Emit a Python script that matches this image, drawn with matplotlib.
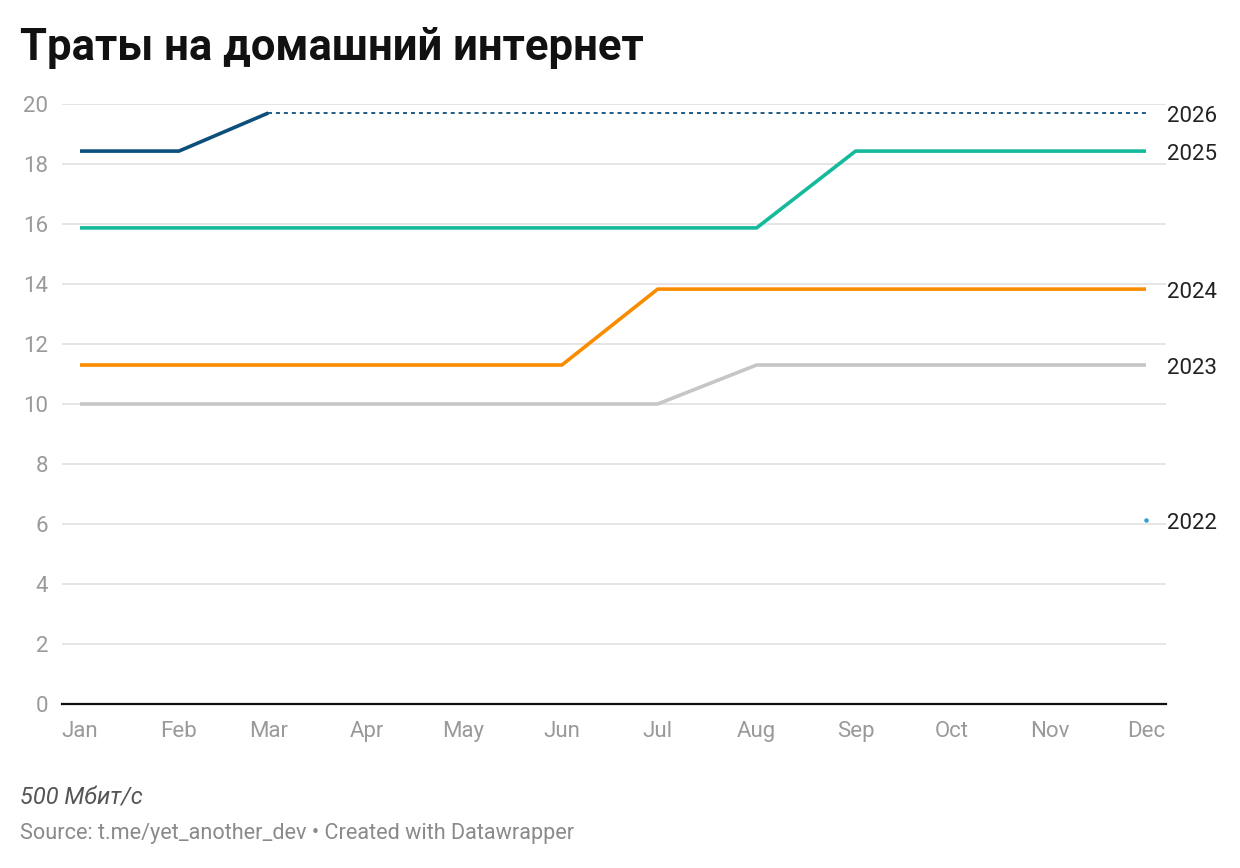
import matplotlib
matplotlib.use("Agg")
import matplotlib.pyplot as plt
import matplotlib.dates as mdates
import numpy as np

plt.rcParams['font.family'] = ['Roboto', 'DejaVu Sans']

months = ["Jan", "Feb", "Mar", "Apr", "May", "Jun", "Jul", "Aug", "Sep", "Oct", "Nov", "Dec"]
dates = np.array(["2023-%02d-01" % m for m in range(1, 13)], dtype="datetime64[D]")
y2026 = [18.43, 18.43, 19.7, None, None, None, None, None, None, None, None, None]
y2026_proj = [None, None, 19.7, 19.7, 19.7, 19.7, 19.7, 19.7, 19.7, 19.7, 19.7, 19.7]
y2025 = [15.87, 15.87, 15.87, 15.87, 15.87, 15.87, 15.87, 15.87, 18.43, 18.43, 18.43, 18.43]
y2024 = [11.3, 11.3, 11.3, 11.3, 11.3, 11.3, 13.83, 13.83, 13.83, 13.83, 13.83, 13.83]
y2023 = [10.0, 10.0, 10.0, 10.0, 10.0, 10.0, 10.0, 11.3, 11.3, 11.3, 11.3, 11.3]
y2022 = [None] * 11 + [6.13]
yticks = [0, 2, 4, 6, 8, 10, 12, 14, 16, 18, 20]

def arr(v):
    return np.array([np.nan if x is None else x for x in v], dtype=float)

fig = plt.figure(figsize=(12.4, 8.68), dpi=100)
ax = fig.add_axes([62/1240, 1 - 704/868, (1166-62)/1240, 600/868])
x = mdates.date2num(dates)

ax.plot(x, arr(y2023), color="#c6c6c6", lw=2.6, solid_capstyle="butt", clip_on=False, zorder=3)
ax.plot(x, arr(y2024), color="#fa8c00", lw=2.6, solid_capstyle="butt", clip_on=False, zorder=3)
ax.plot(x, arr(y2025), color="#15b99b", lw=2.6, solid_capstyle="butt", clip_on=False, zorder=3)
ax.plot(x, arr(y2026_proj), color="#0d4f7c", lw=1.3, linestyle=(0, (2.2, 2.2)), clip_on=False, zorder=3)
ax.plot(x, arr(y2026), color="#0d4f7c", lw=2.6, solid_capstyle="butt", clip_on=False, zorder=4)
ax.plot(x, arr(y2022), color="#2a9fd6", marker="o", markersize=2.2, lw=0, clip_on=False, zorder=4)

labels = [("2026", y2026_proj), ("2025", y2025), ("2024", y2024), ("2023", y2023), ("2022", y2022)]
for name, vals in labels:
    v = arr(vals)[-1]
    ax.annotate(name, xy=(x[-1], v), xytext=(21, -3), textcoords="offset pixels",
                ha="left", va="center", fontsize=16, color="#222222")

ax.set_xlim(x[0] - 5.64, x[-1] + 6.27)
ax.set_ylim(0, 20)
ax.set_yticks(yticks)
ax.set_yticklabels([str(t) for t in yticks])
ax.set_xticks(x)
ax.set_xticklabels(months)
ax.tick_params(axis="both", length=0, labelsize=16, labelcolor="#9a9a9a")
ax.tick_params(axis="y", pad=10)
ax.tick_params(axis="x", pad=12)
ax.grid(axis="y", color="#e2e2e2", lw=1.2)
ax.grid(axis="x", visible=False)
ax.set_axisbelow(True)
for s in ["top", "right", "left"]:
    ax.spines[s].set_visible(False)
ax.spines["bottom"].set_color("#111111")
ax.spines["bottom"].set_linewidth(1.6)
ax.spines["bottom"].set_zorder(5)

fig.text(20/1240, 1 - 48/868, "Траты на домашний интернет", fontsize=31.4, fontweight="bold",
         color="#111111", ha="left", va="center")
fig.text(20/1240, 1 - 798/868, "500 Мбит/с", fontsize=17, style="italic", color="#555555",
         ha="left", va="center")
fig.text(20/1240, 1 - 834/868, "Source: t.me/yet_another_dev • Created with Datawrapper", fontsize=15.6,
         color="#8a8a8a", ha="left", va="center")

fig.savefig("out.png", dpi=100, facecolor="white")
